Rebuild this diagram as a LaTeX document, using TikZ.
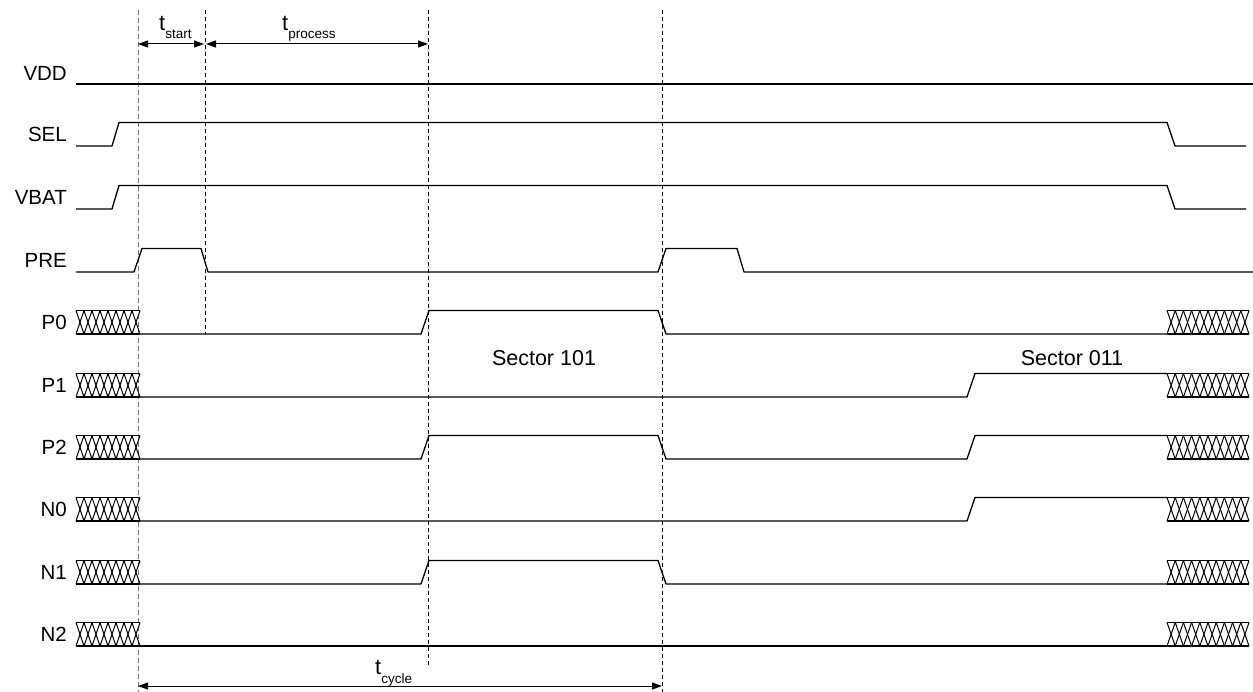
\documentclass[tikz,border=0pt]{standalone}
\usepackage{fontspec}
\setmainfont{Liberation Sans}
\usetikzlibrary{arrows.meta}
\newcommand{\busx}[4]{% #1 x0, #2 cells, #3 cell width, #4 low y
  \foreach \k in {1,...,#2}{
    \draw[hatchline] ({#1+(\k-1)*#3},#4-23.5) -- ({#1+\k*#3},#4);
    \draw[hatchline] ({#1+(\k-1)*#3},#4) -- ({#1+\k*#3},#4-23.5);
  }
  \draw[wave] (#1,#4-23.5) -- ({#1+#2*#3},#4-23.5);
  \draw[wave] (#1,#4) -- ({#1+#2*#3},#4);
}
\begin{document}
\begin{tikzpicture}[x=1pt,y=-1pt,
  wave/.style={line width=1.3pt, line join=round, black},
  hatchline/.style={line width=1pt, black},
  lbl/.style={font=\fontsize{20.5}{24}\selectfont, inner sep=0pt, anchor=base east},
  seclbl/.style={font=\fontsize{21.5}{25}\selectfont, inner sep=0pt, anchor=base},
  tlbl/.style={font=\fontsize{22}{26}\selectfont, inner sep=0pt, anchor=base west},
  guide/.style={line width=0.7pt, dash pattern=on 4pt off 3pt, black},
  guidegray/.style={line width=0.9pt, dash pattern=on 5pt off 3pt, black!55},
  dim/.style={line width=1pt, {Triangle[length=10pt,width=7pt]}-{Triangle[length=10pt,width=7pt]}}
]
\useasboundingbox (0,0) rectangle (1253,692);

% signal labels
\node[lbl] (lVDD) at (67,81) {VDD};
\node[lbl] (lSEL) at (67,141.5) {SEL};
\node[lbl] (lVBAT) at (67,204.5) {VBAT};
\node[lbl] (lPRE) at (67,267.5) {PRE};
\node[lbl] (lP0) at (67,329.5) {P0};
\node[lbl] (lP1) at (67,392.5) {P1};
\node[lbl] (lP2) at (67,454.5) {P2};
\node[lbl] (lN0) at (67,516.5) {N0};
\node[lbl] (lN1) at (67,579.5) {N1};
\node[lbl] (lN2) at (67,641.5) {N2};

% guide lines
\coordinate (g0t) at (138,10); \coordinate (g0b) at (138,692);
\coordinate (g1t) at (205,10); \coordinate (g1b) at (205,334);
\coordinate (g2t) at (428,10); \coordinate (g2b) at (428,665);
\coordinate (g3t) at (662,10); \coordinate (g3b) at (662,692);
\draw[guidegray] (g0t) -- (g0b);
\draw[guide] (g1t) -- (g1b);
\draw[guide] (g2t) -- (g2b);
\draw[guide] (g3t) -- (g3b);

% VDD
\draw[wave] (76,84) -- (1253,84);
% SEL
\draw[wave] (76,146) -- (112,146) -- (119,122.5) -- (1167,122.5) -- (1175,146) -- (1246,146);
% VBAT
\draw[wave] (76,209) -- (112,209) -- (119,185.5) -- (1167,185.5) -- (1175,209) -- (1246,209);
% PRE
\draw[wave] (76,272) -- (134,272) -- (142,248.5) -- (201,248.5) -- (208,272) -- (658,272)
  -- (666,248.5) -- (737,248.5) -- (744,272) -- (1253,272);

% P0
\busx{76}{8}{8}{334}
\draw[wave] (140,334) -- (421,334) -- (429,310.5) -- (658,310.5) -- (666,334) -- (1167,334);
\busx{1167}{10}{8.2}{334}
% P1
\busx{76}{8}{8}{397}
\draw[wave] (140,397) -- (967,397) -- (975,373.5) -- (1167,373.5);
\busx{1167}{10}{8.2}{397}
% P2
\busx{76}{8}{8}{459}
\draw[wave] (140,459) -- (421,459) -- (429,435.5) -- (658,435.5) -- (666,459) -- (967,459)
  -- (975,435.5) -- (1167,435.5);
\busx{1167}{10}{8.2}{459}
% N0
\busx{76}{8}{8}{521}
\draw[wave] (140,521) -- (967,521) -- (975,497.5) -- (1167,497.5);
\busx{1167}{10}{8.2}{521}
% N1
\busx{76}{8}{8}{584}
\draw[wave] (140,584) -- (421,584) -- (429,560.5) -- (658,560.5) -- (666,584) -- (1167,584);
\busx{1167}{10}{8.2}{584}
% N2
\busx{76}{8}{8}{646}
\draw[wave] (140,646) -- (1167,646);
\busx{1167}{10}{8.2}{646}

% sector labels
\node[seclbl] (s101) at (544,366) {Sector 101};
\node[seclbl] (s011) at (1072,366) {Sector 011};

% timing dimensions
\coordinate (a0) at (138,44); \coordinate (a1) at (204,44);
\coordinate (a2) at (206,44); \coordinate (a3) at (428,44);
\coordinate (c0) at (138,686); \coordinate (c1) at (662,686);
\draw[dim] (a0) -- (a1);
\draw[dim] (a2) -- (a3);
\draw[dim] (c0) -- (c1);
\node[tlbl] (tstart) at (159,31) {t\raisebox{-8pt}{\fontsize{13.5}{16}\selectfont start}};
\node[tlbl] (tproc) at (282,31) {t\raisebox{-8pt}{\fontsize{13.5}{16}\selectfont process}};
\node[tlbl] (tcyc) at (375,674) {t\raisebox{-9pt}{\fontsize{13.5}{16}\selectfont cycle}};
\end{tikzpicture}
\end{document}
